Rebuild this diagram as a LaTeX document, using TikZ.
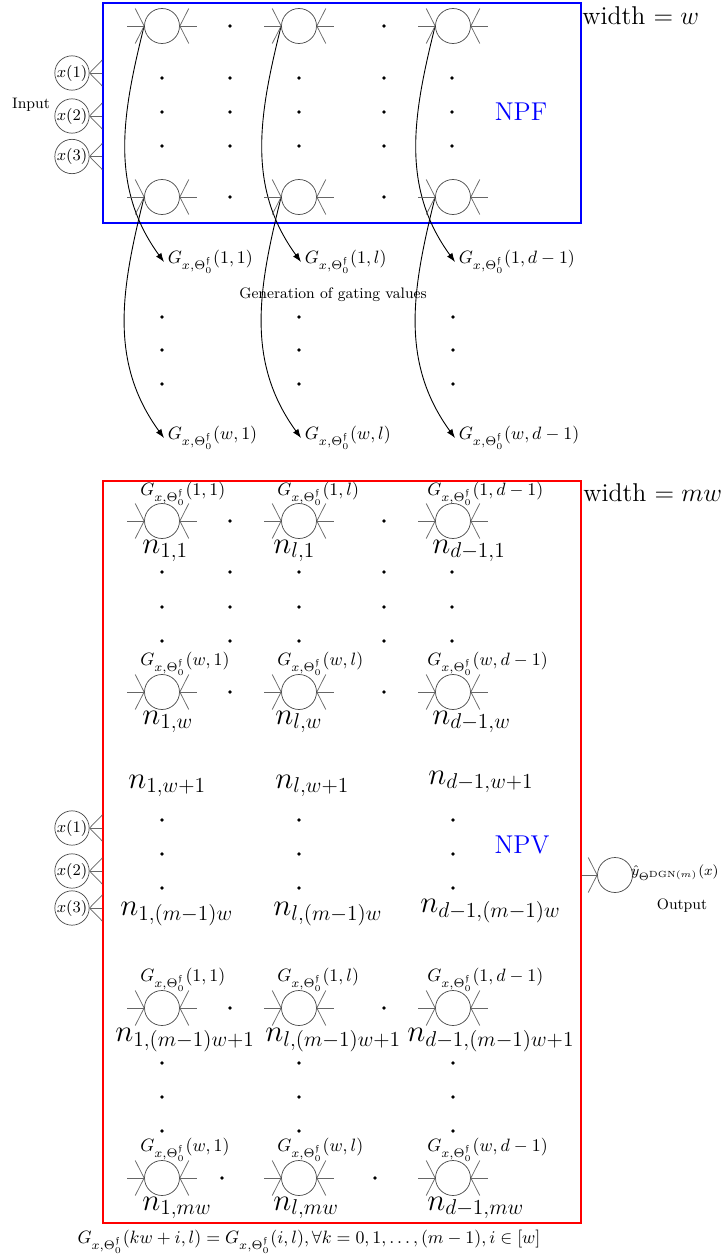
\documentclass[tikz,border=0pt]{standalone}
\usepackage{amsmath,amssymb}
\usetikzlibrary{arrows.meta}
\newcommand\Gx{G_{x,\Theta^{\mathfrak{f}}_0}}
\tikzset{
  neuron/.style={circle, draw=black!70, line width=0.4pt, minimum size=19.6pt, inner sep=0pt},
  wire/.style={draw=black!60, line width=0.4pt},
  inp/.style={circle, draw=black!70, line width=0.4pt, minimum size=19pt, inner sep=0pt, font=\fontsize{9}{11}\selectfont},
  gate/.style={anchor=west, inner sep=2pt},
  glab/.style={anchor=west, inner sep=0pt},
  nlab/.style={anchor=west, inner sep=0pt, font=\fontsize{17.28}{20}\selectfont},
  small/.style={font=\fontsize{8.5}{10}\selectfont},
  big/.style={font=\fontsize{14.4}{17}\selectfont},
  garrow/.style={-{Latex[length=5pt,width=3.6pt]}, line width=0.5pt},
  npfbox/.style={draw=blue, line width=0.8pt, minimum width=267.7pt, minimum height=123.2pt, inner sep=0pt},
  npvbox/.style={draw=red, line width=0.8pt, minimum width=267.7pt, minimum height=415.5pt, inner sep=0pt},
}
\begin{document}
\begin{tikzpicture}[x=0.56pt,y=-0.56pt]
\useasboundingbox (0,0) rectangle (722,1260);

% ---------------- NPF ----------------
\node[npfbox] (npf) at (342,113) {};
\node[big, anchor=west, inner sep=0pt] (ww) at (582,16) {width $=w$};
\node[big, text=blue] (npflab) at (521,112) {NPF};

\node[neuron] (f1a) at (162,26) {};
\node[neuron] (f1b) at (299,26) {};
\node[neuron] (f1c) at (453,26) {};
\node[neuron] (f2a) at (162,197) {};
\node[neuron] (f2b) at (299,197) {};
\node[neuron] (f2c) at (453,197) {};

\foreach \x in {230,384} \foreach \y in {26,197} \fill (\x,\y) circle[radius=1pt];
\foreach \x in {162,230,299,384,452} \foreach \y in {78,112,146} \fill (\x,\y) circle[radius=1pt];

% inputs (top)
\node[inp] (i1) at (72,73) {$x(1)$};
\node[inp] (i2) at (72,116) {$x(2)$};
\node[inp] (i3) at (72,156.5) {$x(3)$};
\node[small] (inlab) at (31,105) {Input};
\foreach \n in {i1,i2,i3} {
  \draw[wire] (\n.east) -- (\n.east -| npf.west);
  \draw[wire] (\n.east) -- ([yshift=7.3pt]\n.east -| npf.west);
  \draw[wire] (\n.east) -- ([yshift=-7.3pt]\n.east -| npf.west);
}

% gating values
\node[gate] (g1a) at (164,262) {$\Gx(1,1)$};
\node[gate] (g1b) at (301,262) {$\Gx(1,l)$};
\node[gate] (g1c) at (455,262) {$\Gx(1,d-1)$};
\node[gate] (g2a) at (164,438) {$\Gx(w,1)$};
\node[gate] (g2b) at (301,438) {$\Gx(w,l)$};
\node[gate] (g2c) at (455,438) {$\Gx(w,d-1)$};
\node[small] (gen) at (333,295) {Generation of gating values};
\foreach \x in {162,299,453} \foreach \y in {317,350,384} \fill (\x,\y) circle[radius=1pt];

\foreach \c in {a,b,c} {
  \draw[garrow] (f1\c.west) to[out=256,in=126] (g1\c.west);
  \draw[garrow] (f2\c.west) to[out=256,in=126] (g2\c.west);
}

% ---------------- NPV ----------------
\node[npvbox] (npv) at (342,852) {};
\node[big, anchor=west, inner sep=0pt] (wmw) at (583,493) {width $=mw$};
\node[big, text=blue] (npvlab) at (522,845) {NPV};

\node[neuron] (p1a) at (162,521) {};
\node[neuron] (p1b) at (299,521) {};
\node[neuron] (p1c) at (453,521) {};
\node[neuron] (p2a) at (162,692) {};
\node[neuron] (p2b) at (299,692) {};
\node[neuron] (p2c) at (453,692) {};
\node[neuron] (p3a) at (162,1008) {};
\node[neuron] (p3b) at (299,1008) {};
\node[neuron] (p3c) at (453,1008) {};
\node[neuron] (p4a) at (162,1178) {};
\node[neuron] (p4b) at (299,1178) {};
\node[neuron] (p4c) at (453,1178) {};

\foreach \n in {f1a,f1b,f1c,f2a,f2b,f2c,p1a,p1b,p1c,p2a,p2b,p2c,p3a,p3b,p3c,p4a,p4b,p4c} {
  \draw[wire] (\n.west) -- ++(-9.5pt,0pt);
  \draw[wire] (\n.west) -- ++(-5pt,9.8pt);
  \draw[wire] (\n.west) -- ++(-5pt,-9.8pt);
  \draw[wire] (\n.east) -- ++(9.5pt,0pt);
  \draw[wire] (\n.east) -- ++(5pt,9.8pt);
  \draw[wire] (\n.east) -- ++(5pt,-9.8pt);
}

% G labels in NPV
\node[glab] (q1a) at (140,494) {$\Gx(1,1)$};
\node[glab] (q1b) at (277,494) {$\Gx(1,l)$};
\node[glab] (q1c) at (427,494) {$\Gx(1,d-1)$};
\node[glab] (q2a) at (140,664) {$\Gx(w,1)$};
\node[glab] (q2b) at (277,664) {$\Gx(w,l)$};
\node[glab] (q2c) at (427,664) {$\Gx(w,d-1)$};
\node[glab] (q3a) at (140,980) {$\Gx(1,1)$};
\node[glab] (q3b) at (277,980) {$\Gx(1,l)$};
\node[glab] (q3c) at (427,980) {$\Gx(1,d-1)$};
\node[glab] (q4a) at (140,1150) {$\Gx(w,1)$};
\node[glab] (q4b) at (277,1150) {$\Gx(w,l)$};
\node[glab] (q4c) at (427,1150) {$\Gx(w,d-1)$};

% n labels
\node[nlab] (n1a) at (142,551) {$n_{1,1}$};
\node[nlab] (n1b) at (273,551) {$n_{l,1}$};
\node[nlab] (n1c) at (432,551) {$n_{d-1,1}$};
\node[nlab] (n2a) at (142,722) {$n_{1,w}$};
\node[nlab] (n2b) at (275,722) {$n_{l,w}$};
\node[nlab] (n2c) at (432,722) {$n_{d-1,w}$};
\node[nlab] (m1a) at (128,786) {$n_{1,w+1}$};
\node[nlab] (m1b) at (275,786) {$n_{l,w+1}$};
\node[nlab] (m1c) at (428,782) {$n_{d-1,w+1}$};
\node[nlab] (m2a) at (120,914) {$n_{1,(m-1)w}$};
\node[nlab] (m2b) at (273,914) {$n_{l,(m-1)w}$};
\node[nlab] (m2c) at (420,911) {$n_{d-1,(m-1)w}$};
\node[nlab] (n3a) at (115,1040) {$n_{1,(m-1)w+1}$};
\node[nlab] (n3b) at (265,1040) {$n_{l,(m-1)w+1}$};
\node[nlab] (n3c) at (407,1040) {$n_{d-1,(m-1)w+1}$};
\node[nlab] (n4a) at (142,1208) {$n_{1,mw}$};
\node[nlab] (n4b) at (273,1208) {$n_{l,mw}$};
\node[nlab] (n4c) at (427,1208) {$n_{d-1,mw}$};

% dots in NPV
\foreach \x in {230,384} \foreach \y in {521,692,1008} \fill (\x,\y) circle[radius=1pt];
\fill (222,1178) circle[radius=1pt];
\fill (375,1178) circle[radius=1pt];
\foreach \x in {162,230,299,384,452} \foreach \y in {572,607,641} \fill (\x,\y) circle[radius=1pt];
\foreach \x in {162,299,453} \foreach \y in {820,854,888,1063,1097,1131} \fill (\x,\y) circle[radius=1pt];

% inputs (bottom)
\node[inp] (j1) at (72,828) {$x(1)$};
\node[inp] (j2) at (72,871) {$x(2)$};
\node[inp] (j3) at (72,908) {$x(3)$};
\foreach \n in {j1,j2,j3} {
  \draw[wire] (\n.east) -- (\n.east -| npv.west);
  \draw[wire] (\n.east) -- ([yshift=7.3pt]\n.east -| npv.west);
  \draw[wire] (\n.east) -- ([yshift=-7.3pt]\n.east -| npv.west);
}

% output
\node[neuron] (out) at (615,875) {};
\draw[wire] (out.west) -- (out.west -| npv.east);
\draw[wire] (out.west) -- ++(-5pt,9.8pt);
\draw[wire] (out.west) -- ++(-5pt,-9.8pt);
\node[anchor=east, inner sep=0pt, font=\fontsize{8.5}{10}\selectfont] (outlab) at (719,873) {$\hat{y}_{\Theta^{\mathrm{DGN}(m)}}(x)$};
\node[small] (outtxt) at (682,906) {Output};

% equation
\node (eq) at (309,1242) {$\Gx(kw+i,l)=\Gx(i,l),\forall k=0,1,\dots,(m-1),i\in[w]$};
\end{tikzpicture}
\end{document}
